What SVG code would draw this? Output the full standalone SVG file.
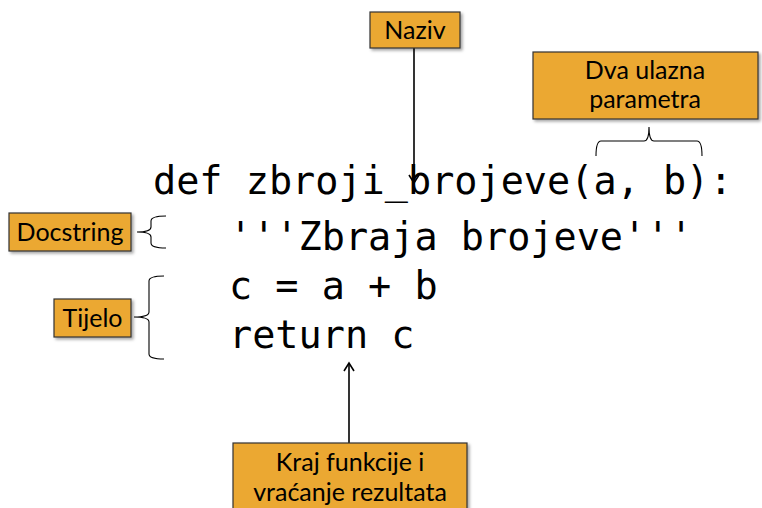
<svg xmlns="http://www.w3.org/2000/svg" width="762" height="508" viewBox="0 0 762 508">
<style>
.box{fill:#EBA833;stroke:#333;stroke-width:1.2;filter:url(#sh)}
.lbl{font-family:Lato,"Open Sans",sans-serif;font-size:25px;fill:#000;text-anchor:middle}
.code{font-family:"DejaVu Sans Mono","Liberation Mono",monospace;font-size:38.5px;fill:#000}
.ln{stroke:#000;stroke-width:1.6;fill:none}
.br{stroke:#000;stroke-width:1.1;fill:none}
</style>
<defs>
<filter id="sh" x="-10%" y="-10%" width="130%" height="140%">
<feDropShadow dx="2" dy="2" stdDeviation="1.5" flood-color="#000" flood-opacity="0.35"/>
</filter>
<path id="head" d="M-5,-8 L0,0 L5,-8" fill="none" stroke="#000" stroke-width="1.6"/>
</defs>
<rect width="762" height="508" fill="#fff"/>
<g id="code">
<text class="code" x="153" y="194">def zbroji_brojeve(a, b):</text>
<text class="code" x="229" y="250">'''Zbraja brojeve'''</text>
<text class="code" x="229" y="299">c = a + b</text>
<text class="code" x="229" y="348">return c</text>
</g>
<g id="connectors">
<line class="ln" x1="414" y1="48" x2="414" y2="182"/>
<use href="#head" transform="translate(414,183)"/>
<line class="ln" x1="349" y1="443" x2="349" y2="364"/>
<use href="#head" transform="translate(349,363) rotate(180)"/>
<path class="br" d="M596,156 Q596,141 601,141 L644,141 Q649,141 649,127 Q649,141 654,141 L697,141 Q702,141 702,156"/>
<path class="br" d="M166,216 Q151,216 151,221 L151,227 Q151,232 137,232 Q151,232 151,237 L151,243 Q151,248 166,248"/>
<path class="br" d="M164,276 Q149,276 149,281 L149,312 Q149,317 134,317 Q149,317 149,322 L149,354 Q149,359 164,359"/>
</g>
<g id="naziv">
<rect class="box" x="370" y="12" width="90" height="36"/>
<text class="lbl" x="415" y="39">Naziv</text>
</g>
<g id="parametri">
<rect class="box" x="533" y="52" width="225" height="67"/>
<text class="lbl" x="645" y="79">Dva ulazna</text>
<text class="lbl" x="645" y="108">parametra</text>
</g>
<g id="docstring">
<rect class="box" x="9" y="213" width="122" height="38"/>
<text class="lbl" x="70" y="241">Docstring</text>
</g>
<g id="tijelo">
<rect class="box" x="54" y="299" width="77" height="38"/>
<text class="lbl" x="92.5" y="327">Tijelo</text>
</g>
<g id="kraj">
<rect class="box" x="233" y="443" width="234" height="70"/>
<text class="lbl" x="350" y="471">Kraj funkcije i</text>
<text class="lbl" x="350" y="501">vraćanje rezultata</text>
</g>
</svg>
